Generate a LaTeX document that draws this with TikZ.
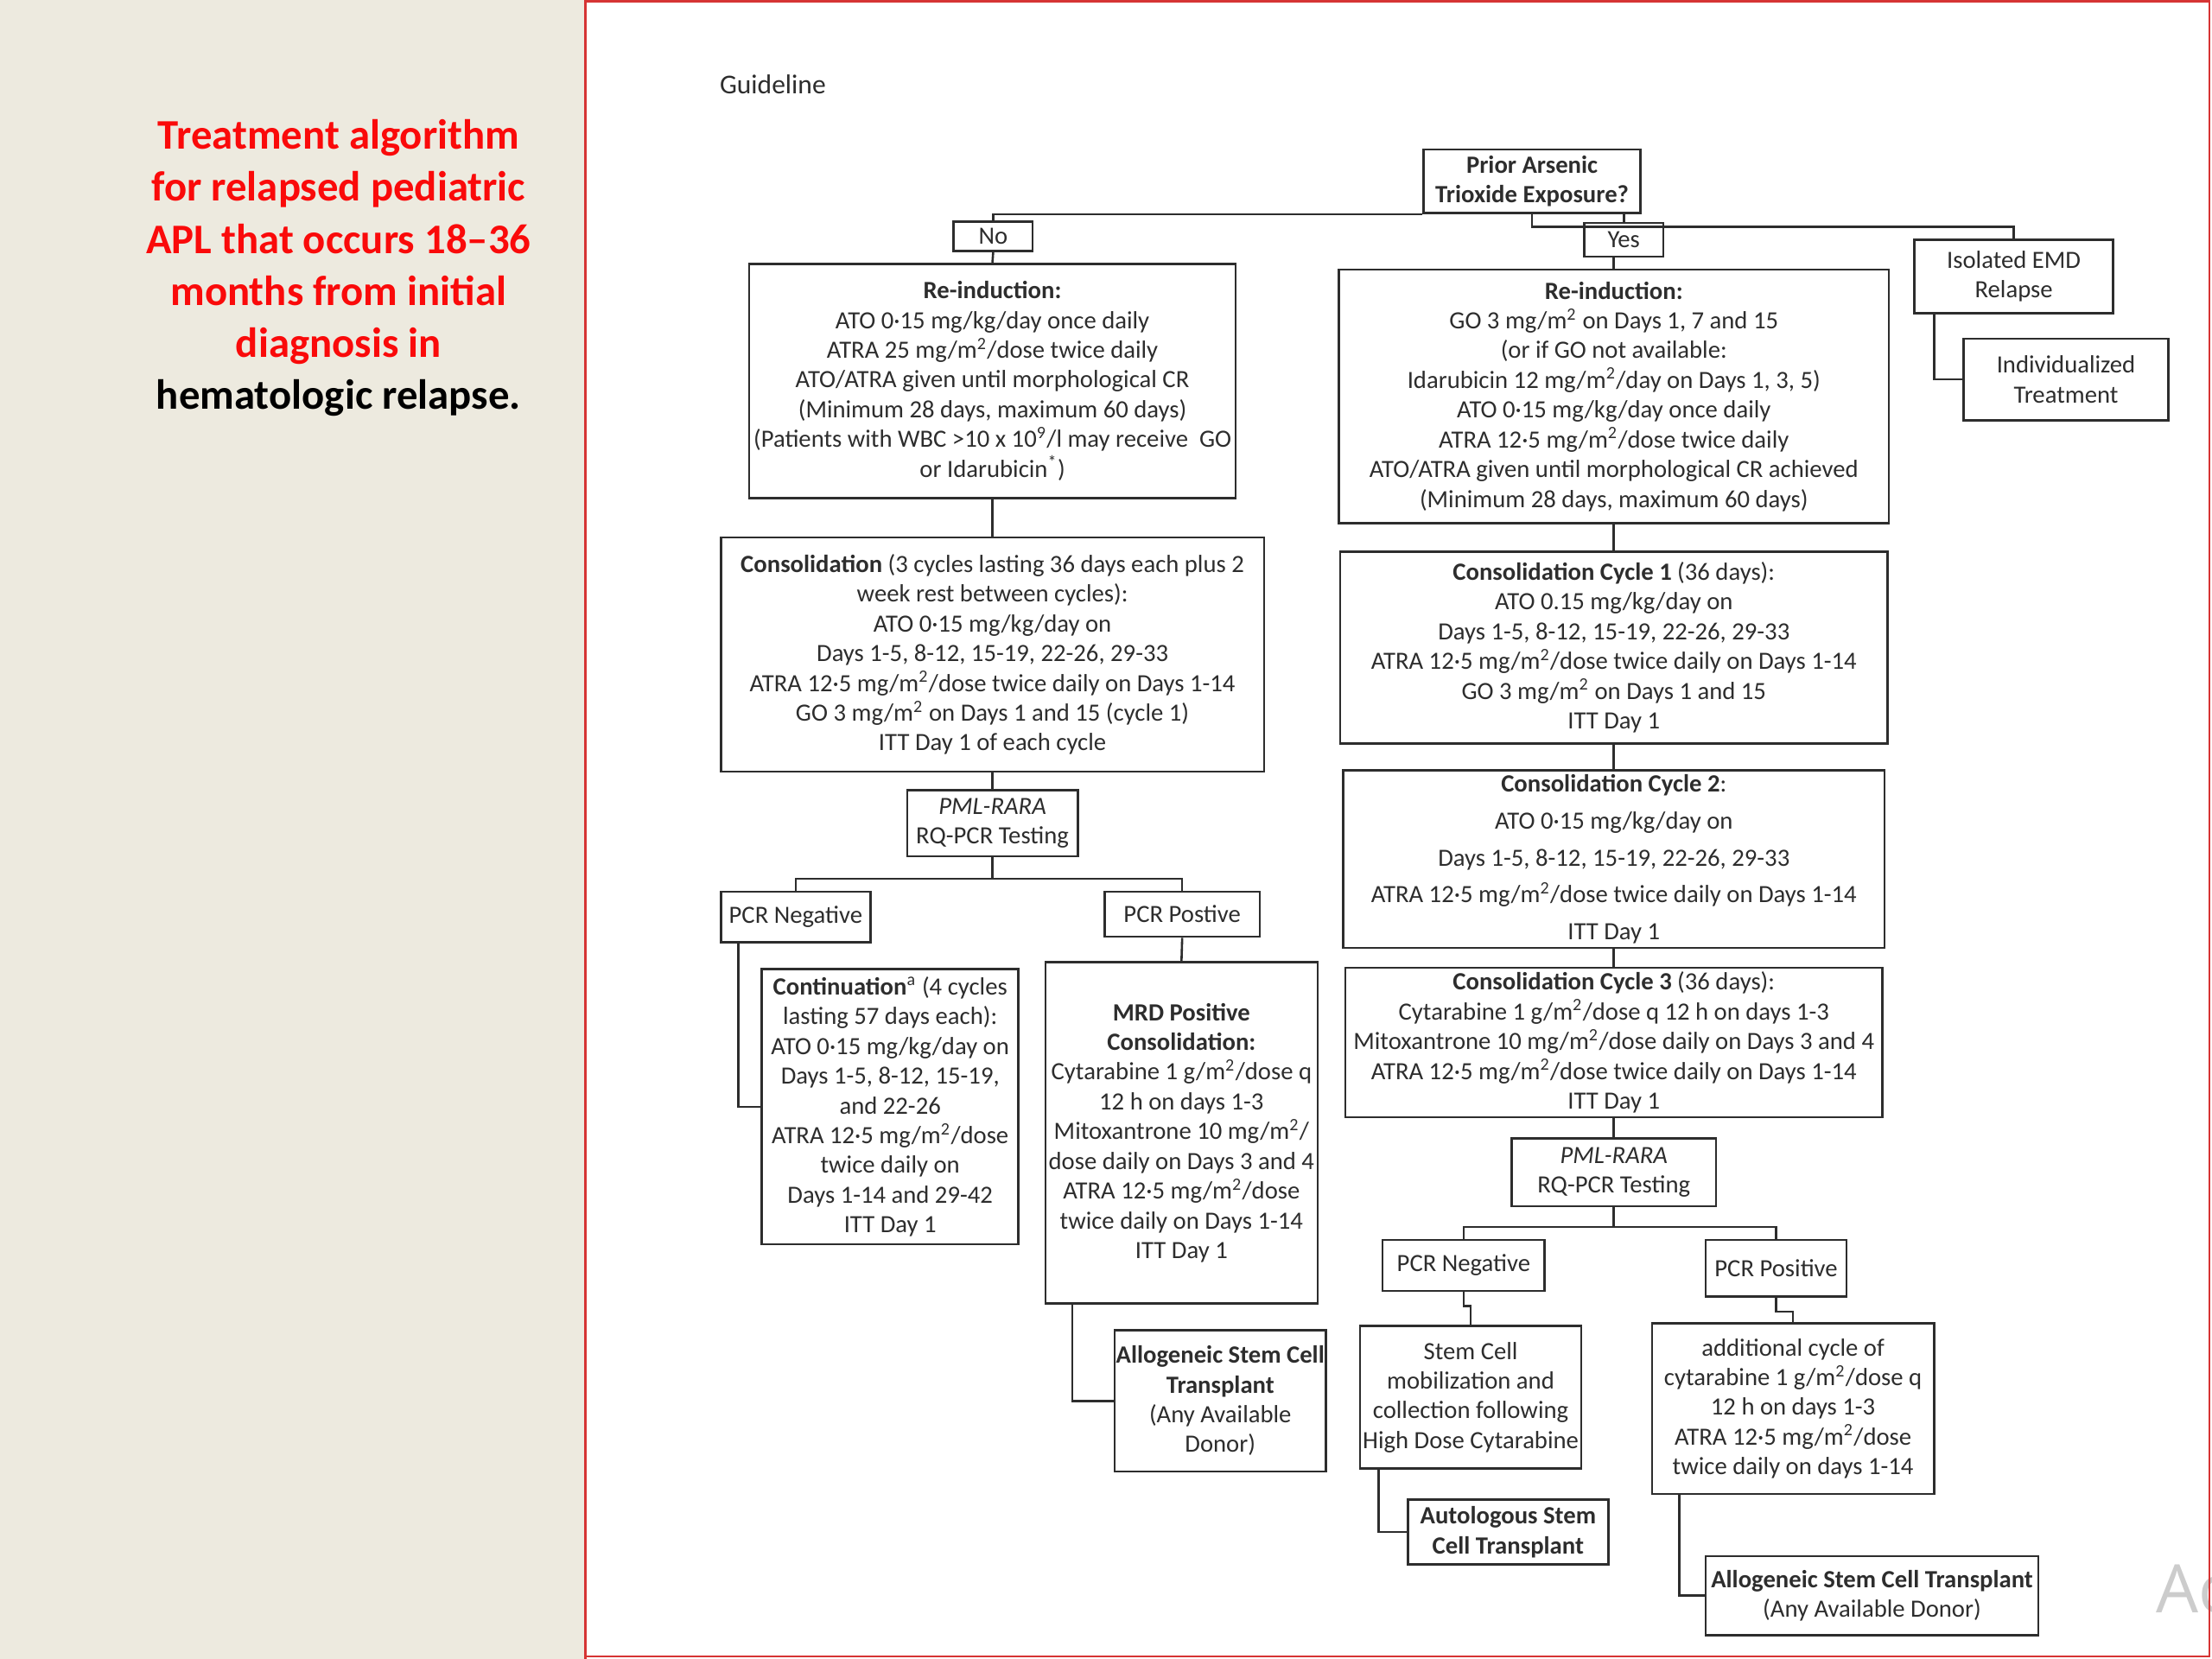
\documentclass[tikz,border=0pt]{standalone}
\usepackage{fontspec}
\setmainfont{Carlito}
\newfontfamily\wmfont{Open Sans}
\usetikzlibrary{positioning}
\definecolor{beige}{RGB}{237,234,223}
\definecolor{framered}{RGB}{214,52,52}
\definecolor{ink}{RGB}{45,45,45}
\definecolor{titred}{RGB}{250,10,10}
\newcommand{\msq}{m\textsuperscript{2}}

\begin{document}
\begin{tikzpicture}[x=0.02cm, y=-0.02cm,
		box/.style={draw=ink, line width=0.9pt, inner sep=0pt, align=center, text=ink, font=\fontsize{10}{12}\selectfont},
		link/.style={draw=ink, line width=0.9pt}]
				\useasboundingbox (0,0) rectangle (1568,1176);
				%Fondo
				\fill[beige] (0,0) rectangle (415,1176);
				\fill[white] (415,0) rectangle (1568,1176);
				%Titulo
				\node[align=center, font=\fontsize{17}{21}\selectfont\bfseries, text=titred] (title) at (240,190) {Treatment algorithm\\for relapsed pediatric\\APL that occurs 18–36\\months from initial\\diagnosis in\\\textcolor{black}{hematologic relapse.}};
				\node[anchor=west, font=\fontsize{11}{13}\selectfont, text=ink] (guide) at (504,60) {Guideline};

				%Pregunta
				\node[box, minimum width=3.08cm, minimum height=0.9cm] (pra) at (1086,128.5) {\textbf{Prior Arsenic}\\\textbf{Trioxide Exposure?}};
				\node[box, minimum width=1.12cm, minimum height=0.42cm] (no) at (704,167.5) {No};
				\node[box, minimum width=1.12cm, minimum height=0.48cm] (yes) at (1151,170) {Yes};
				\node[box, minimum width=2.82cm, minimum height=1.04cm] (emd) at (1427.5,196) {Isolated EMD\\Relapse};
				\node[box, minimum width=2.9cm, minimum height=1.16cm] (indiv) at (1464.5,269) {Individualized\\Treatment};

				%Rama No
				\node[box, minimum width=6.9cm, minimum height=3.32cm] (reL) at (703.5,270) {\textbf{Re-induction:}\\ATO 0·15 mg/kg/day once daily\\ATRA 25 mg/\msq/dose twice daily\\ATO/ATRA given until morphological CR\\(Minimum 28 days, maximum 60 days)\\(Patients with WBC >10 x 10\textsuperscript{9}/l may receive~~GO\\or Idarubicin\textsuperscript{*})};
				\node[box, minimum width=7.7cm, minimum height=3.32cm] (conL) at (703.5,464) {\textbf{Consolidation} (3 cycles lasting 36 days each plus 2\\week rest between cycles):\\ATO 0·15 mg/kg/day on\\Days 1-5, 8-12, 15-19, 22-26, 29-33\\ATRA 12·5 mg/\msq/dose twice daily on Days 1-14\\GO 3 mg/\msq{} on Days 1 and 15 (cycle 1)\\ITT Day 1 of each cycle};
				\node[box, minimum width=2.42cm, minimum height=0.94cm] (pmlL) at (703.5,583.5) {\textit{PML-RARA}\\RQ-PCR Testing};
				\node[box, minimum width=2.12cm, minimum height=0.72cm] (pcrnL) at (564,650) {PCR Negative};
				\node[box, minimum width=2.2cm, minimum height=0.64cm] (pcrpL) at (838,648) {PCR Postive};
				\node[box, minimum width=3.64cm, minimum height=3.9cm] (contL) at (631,784.5) {\textbf{Continuation}\textsuperscript{a} (4 cycles\\lasting 57 days each):\\ATO 0·15 mg/kg/day on\\Days 1-5, 8-12, 15-19,\\and 22-26\\ATRA 12·5 mg/\msq/dose\\twice daily on\\Days 1-14 and 29-42\\ITT Day 1};
				\node[box, minimum width=3.86cm, minimum height=4.84cm] (mrd) at (837.5,803) {\textbf{MRD Positive}\\\textbf{Consolidation:}\\Cytarabine 1 g/\msq/dose q\\12 h on days 1-3\\Mitoxantrone 10 mg/\msq/\\dose daily on Days 3 and 4\\ATRA 12·5 mg/\msq/dose\\twice daily on Days 1-14\\ITT Day 1};
				\node[box, minimum width=3.0cm, minimum height=2.0cm] (alloL) at (865,993) {\textbf{Allogeneic Stem Cell}\\\textbf{Transplant}\\(Any Available\\Donor)};

				%Rama Yes
				\node[box, minimum width=7.8cm, minimum height=3.6cm] (reR) at (1144,281) {\textbf{Re-induction:}\\GO 3 mg/\msq{} on Days 1, 7 and 15\\(or if GO not available:\\Idarubicin 12 mg/\msq/day on Days 1, 3, 5)\\ATO 0·15 mg/kg/day once daily\\ATRA 12·5 mg/\msq/dose twice daily\\ATO/ATRA given until morphological CR achieved\\(Minimum 28 days, maximum 60 days)};
				\node[box, minimum width=7.76cm, minimum height=2.72cm] (c1) at (1144,459) {\textbf{Consolidation Cycle 1} (36 days):\\ATO 0.15 mg/kg/day on\\Days 1-5, 8-12, 15-19, 22-26, 29-33\\ATRA 12·5 mg/\msq/dose twice daily on Days 1-14\\GO 3 mg/\msq{} on Days 1 and 15\\ITT Day 1};
				\node[box, minimum width=7.68cm, minimum height=2.52cm] (c2) at (1144,609) {\textbf{Consolidation Cycle 2}:\\[0.1cm]ATO 0·15 mg/kg/day on\\[0.1cm]Days 1-5, 8-12, 15-19, 22-26, 29-33\\[0.1cm]ATRA 12·5 mg/\msq/dose twice daily on Days 1-14\\[0.1cm]ITT Day 1};
				\node[box, minimum width=7.62cm, minimum height=2.12cm] (c3) at (1144,739) {\textbf{Consolidation Cycle 3} (36 days):\\Cytarabine 1 g/\msq/dose q 12 h on days 1-3\\Mitoxantrone 10 mg/\msq/dose daily on Days 3 and 4\\ATRA 12·5 mg/\msq/dose twice daily on Days 1-14\\ITT Day 1};
				\node[box, minimum width=2.9cm, minimum height=0.96cm] (pmlR) at (1144,831) {\textit{PML-RARA}\\RQ-PCR Testing};
				\node[box, minimum width=2.3cm, minimum height=0.72cm] (pcrnR) at (1037.5,897) {PCR Negative};
				\node[box, minimum width=2.0cm, minimum height=0.8cm] (pcrpR) at (1259,899) {PCR Positive};
				\node[box, minimum width=3.14cm, minimum height=2.02cm] (stem) at (1042.5,990.5) {Stem Cell\\mobilization and\\collection following\\High Dose Cytarabine};
				\node[box, minimum width=2.84cm, minimum height=0.92cm] (auto) at (1069,1086) {\textbf{Autologous Stem}\\\textbf{Cell Transplant}};
				\node[box, minimum width=4.0cm, minimum height=2.42cm] (add) at (1271,998.5) {additional cycle of\\cytarabine 1 g/\msq/dose q\\12 h on days 1-3\\ATRA 12·5 mg/\msq/dose\\twice daily on days 1-14};
				\node[box, minimum width=4.72cm, minimum height=1.12cm] (alloR) at (1327,1131) {\textbf{Allogeneic Stem Cell Transplant}\\(Any Available Donor)};

				%Lineas
				\draw[link] (pra.south west) -| (no.north);
				\draw[link] (pra.south) -- ++(0,9) -| (emd.north);
				\draw[link] (yes.north |- pra.south) -- (yes.north);
				\draw[link] ([xshift=0.3cm]emd.south west) |- (indiv.west);
				\draw[link] (no.south) -- (reL.north);
				\draw[link] (reL.south) -- (conL.north);
				\draw[link] (conL.south) -- (pmlL.north);
				\draw[link] (pmlL.south) -- ++(0,15) -| (pcrnL.north);
				\draw[link] (pmlL.south) -- ++(0,15) -| (pcrpL.north);
				\draw[link] ([xshift=0.26cm]pcrnL.south west) |- (contL.west);
				\draw[link] (pcrpL.south) -- (mrd.north);
				\draw[link] ([xshift=0.4cm]mrd.south west) |- (alloL.west);
				\draw[link] (reR.north |- yes.south) -- (reR.north);
				\draw[link] (reR.south) -- (c1.north);
				\draw[link] (c1.south) -- (c2.north);
				\draw[link] (c2.south) -- (c3.north);
				\draw[link] (c3.south) -- (pmlR.north);
				\draw[link] (pmlR.south) -- ++(0,14) -| (pcrnR.north);
				\draw[link] (pmlR.south) -- ++(0,14) -| (pcrpR.north);
				\draw[link] (pcrnR.south) -- ++(0,10) -| (stem.north);
				\draw[link] (pcrpR.south) -- ++(0,10) -| (add.north);
				\draw[link] ([xshift=0.28cm]stem.south west) |- (auto.west);
				\draw[link] ([xshift=0.4cm]add.south west) |- (alloR.west);

				%Marca
				\node[anchor=base west, font=\wmfont\fontsize{27}{30}\selectfont, text=gray!40, inner sep=0pt] (wm) at (1528,1143) {Ac};
				%Marco
				\draw[framered, line width=0.8pt] (415,1176) -- (415,1) -- (1566,1) -- (1566,1174) -- (415,1174);
\end{tikzpicture}
\end{document}
